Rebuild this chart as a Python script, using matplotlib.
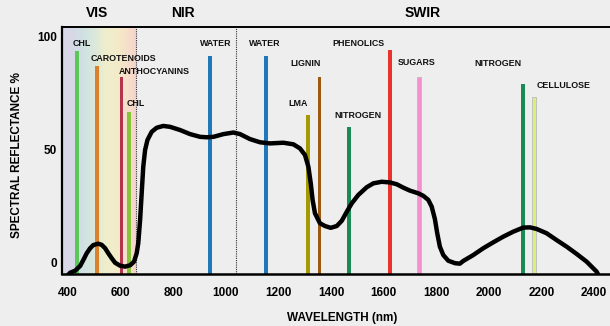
import numpy as np
import matplotlib
matplotlib.use("Agg")
import matplotlib.pyplot as plt
from matplotlib.colors import LinearSegmentedColormap

plt.rcParams['font.family'] = ['Liberation Sans', 'DejaVu Sans']
plt.rcParams['font.weight'] = 'bold'

# reflectance curve
wavelength = [398, 408, 427, 446, 458, 471, 484, 496, 515, 528, 541, 553, 566, 579, 598,
              617, 636, 651, 661, 667, 674, 680, 686, 693, 702, 718, 737, 762, 788, 826,
              864, 902, 927, 953, 991, 1029, 1054, 1092, 1130, 1168, 1219, 1257, 1282,
              1301, 1314, 1323, 1330, 1339, 1358, 1377, 1399, 1422, 1441, 1460, 1479,
              1504, 1536, 1561, 1593, 1624, 1650, 1675, 1700, 1732, 1751, 1770, 1783,
              1795, 1804, 1814, 1827, 1846, 1872, 1890, 1903, 1941, 1979, 2017, 2055,
              2093, 2131, 2157, 2182, 2220, 2258, 2296, 2334, 2372, 2410, 2418]
reflectance = [-5.5, -4.3, -3.4, -1.3, 1.3, 4.3, 6.5, 7.9, 8.5, 8.0, 6.5, 4.3, 2.1, 0.1, -1.2,
               -1.6, -1.0, 0.6, 4.3, 8.7, 18.9, 30.7, 42.4, 49.8, 54.2, 57.8, 59.6, 60.4, 60.0, 58.6,
               56.8, 55.6, 55.4, 55.6, 56.8, 57.5, 56.8, 54.6, 53.2, 52.7, 53.0, 52.3, 50.5,
               47.6, 42.4, 35.1, 27.8, 21.9, 17.5, 16.3, 15.5, 16.3, 18.6, 22.6, 26.3,
               30.0, 33.4, 35.1, 35.8, 35.5, 34.7, 33.2, 31.9, 30.7, 29.6, 27.8, 24.8,
               19.4, 13.1, 7.2, 3.5, 1.0, -0.1, -0.3, 0.9, 3.5, 6.5, 9.1, 11.6,
               13.8, 15.6, 15.7, 15.0, 13.1, 10.1, 7.2, 4.0, 0.6, -3.8, -5.5]

# absorption features
feature_names = ['CHL', 'CAROTENOIDS', 'ANTHOCYANINS', 'CHL', 'WATER', 'WATER', 'LMA', 'LIGNIN',
                 'NITROGEN', 'PHENOLICS', 'SUGARS', 'NITROGEN', 'CELLULOSE']
feature_nm = [434, 510, 602, 632, 940, 1153, 1312, 1355, 1468, 1624, 1735, 2130, 2172]
feature_height = [93.4, 87, 82, 66.5, 91, 91, 65, 82, 60, 94, 82, 79, 73]
feature_colors = ['#5cc65a', '#d9822b', '#b5334e', '#86c43c', '#1f78b8', '#1f78b8', '#a39a00',
                  '#9a5a12', '#1b8a55', '#e8342a', '#f590d0', '#1b8a55', '#d8f07e']
# label anchor (left edge, vertical centre)
label_nm = [419, 487, 594, 624, 902, 1088, 1237, 1244, 1411, 1404, 1655, 1947, 2183]
label_y = [96.9, 90.3, 84.6, 70.5, 96.9, 96.9, 70.5, 88.1, 65.2, 96.9, 88.5, 87.7, 78.0]

regions = ['VIS', 'NIR', 'SWIR']
region_x = [97, 183, 423]
borders = [658, 1039]

bg = '#eeeeee'
x0, x1 = 377, 2461
y0, y1 = -4.85, 104

fig = plt.figure(figsize=(6.10, 3.26), dpi=100, facecolor=bg)
ax = fig.add_axes([62 / 610, 1 - 274 / 326, 1 - 62 / 610, (274 - 27) / 326])
ax.set_facecolor(bg)

# visible band gradient
vis_cmap = LinearSegmentedColormap.from_list('vis', [
    (0.0, '#d9d7e7'), (0.14, '#d7d8e7'), (0.28, '#cfe1e3'), (0.45, '#dbe8da'),
    (0.58, '#eeeecc'), (0.76, '#f4ebc8'), (1.0, '#f7d5cc')])
ax.imshow(np.linspace(0, 1, 200)[None, :], cmap=vis_cmap, aspect='auto',
          extent=[x0, borders[0], y0, y1], zorder=0)

for b in borders:
    ax.axvline(b, color='#333333', lw=0.8, ls=(0, (1, 1)), zorder=1)

for i in range(len(feature_nm)):
    ec = '#bbbbbb' if feature_names[i] in ('SUGARS', 'CELLULOSE') else 'none'
    ax.bar(feature_nm[i], feature_height[i] - y0, bottom=y0, width=12.5,
           color=feature_colors[i], edgecolor=ec, linewidth=0.6, zorder=2)
    ax.text(label_nm[i], label_y[i], feature_names[i], ha='left', va='center',
            fontsize=6.4, fontweight='bold', color='#111111', zorder=4)

ax.plot(wavelength, reflectance, color='black', lw=3.2, solid_joinstyle='round',
        solid_capstyle='round', zorder=3)

ax.set_xlim(x0, x1)
ax.set_ylim(y0, y1)
ax.set_xticks([400, 600, 800, 1000, 1200, 1400, 1600, 1800, 2000, 2200, 2400])
ax.set_yticks([0, 50, 100])
ax.tick_params(length=0, labelsize=8.5)
ax.tick_params(axis='x', pad=9.5)
ax.tick_params(axis='y', pad=3.5)
for lab in ax.get_xticklabels() + ax.get_yticklabels():
    lab.set_fontweight('bold')

ax.spines['right'].set_visible(False)
ax.spines['left'].set_linewidth(1.6)
ax.spines['bottom'].set_linewidth(1.8)
ax.spines['top'].set_linewidth(1.4)
for s in ax.spines.values():
    s.set_zorder(5)

for r, rx in zip(regions, region_x):
    fig.text(rx / 610, 1 - 13 / 326, r, ha='center', va='center', fontsize=10, fontweight='bold')

fig.text(342 / 610, 1 - 318 / 326, 'WAVELENGTH (nm)', ha='center', va='center',
         fontsize=8.5, fontweight='bold')
fig.text(17 / 610, 1 - 155 / 326, 'SPECTRAL REFLECTANCE %', ha='center', va='center',
         rotation=90, fontsize=8.5, fontweight='bold')

fig.savefig('out.png', dpi=100, facecolor=bg)
